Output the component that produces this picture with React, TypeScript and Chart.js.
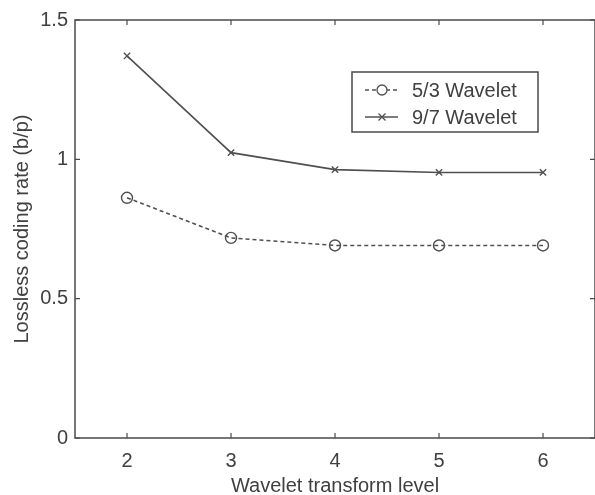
import React, { useEffect, useRef } from "react";
import { Chart, registerables } from "chart.js";

Chart.register(...registerables);

const levels = [2, 3, 4, 5, 6];
const wavelet53 = [0.862, 0.718, 0.691, 0.691, 0.691];
const wavelet97 = [1.371, 1.024, 0.963, 0.953, 0.953];
const seriesNames = ["5/3 Wavelet", "9/7 Wavelet"];
const xTicks = [2, 3, 4, 5, 6];
const yTicks = [0, 0.5, 1, 1.5];
const xTitle = "Wavelet transform level";
const yTitle = "Lossless coding rate (b/p)";

const INK = "#4a4a4a";
const TEXT = "#404040";
const FONT = "'Liberation Sans', Arial, sans-serif";

const framePlugin = {
  id: "frame",
  afterDraw(chart: any) {
    const { ctx, chartArea: a, scales } = chart;
    ctx.save();
    ctx.strokeStyle = INK;
    ctx.lineWidth = 1.5;
    ctx.strokeRect(a.left, a.top, a.right - a.left, a.bottom - a.top);
    ctx.lineWidth = 1.2;
    const t = 5;
    xTicks.forEach((v) => {
      const x = scales.x.getPixelForValue(v);
      ctx.beginPath();
      ctx.moveTo(x, a.bottom);
      ctx.lineTo(x, a.bottom - t);
      ctx.moveTo(x, a.top);
      ctx.lineTo(x, a.top + t);
      ctx.stroke();
    });
    yTicks.forEach((v) => {
      const y = scales.y.getPixelForValue(v);
      ctx.beginPath();
      ctx.moveTo(a.left, y);
      ctx.lineTo(a.left + t, y);
      ctx.moveTo(a.right, y);
      ctx.lineTo(a.right - t, y);
      ctx.stroke();
    });

    // legend
    const bx = a.left + 277;
    const by = a.top + 52;
    const bw = 186;
    const bh = 60;
    ctx.fillStyle = "#ffffff";
    ctx.fillRect(bx, by, bw, bh);
    ctx.lineWidth = 1.5;
    ctx.strokeStyle = INK;
    ctx.strokeRect(bx, by, bw, bh);
    const rows = [by + 18, by + 45];
    ctx.font = `20px ${FONT}`;
    ctx.textBaseline = "middle";
    ctx.textAlign = "left";
    rows.forEach((ry, i) => {
      const ds = chart.data.datasets[i];
      ctx.strokeStyle = ds.borderColor;
      ctx.lineWidth = ds.borderWidth;
      ctx.setLineDash(ds.borderDash || []);
      ctx.beginPath();
      ctx.moveTo(bx + 13, ry);
      ctx.lineTo(bx + 46, ry);
      ctx.stroke();
      ctx.setLineDash([]);
      const mx = bx + 30;
      ctx.lineWidth = 1.3;
      if (i === 0) {
        ctx.fillStyle = "#ffffff";
        ctx.beginPath();
        ctx.arc(mx, ry, 5, 0, Math.PI * 2);
        ctx.fill();
        ctx.stroke();
      } else {
        ctx.beginPath();
        ctx.moveTo(mx - 3.5, ry - 3.5);
        ctx.lineTo(mx + 3.5, ry + 3.5);
        ctx.moveTo(mx - 3.5, ry + 3.5);
        ctx.lineTo(mx + 3.5, ry - 3.5);
        ctx.stroke();
      }
      ctx.fillStyle = TEXT;
      ctx.fillText(seriesNames[i], bx + 60, ry + 1);
    });
    ctx.restore();
  },
};

export default function App() {
  const ref = useRef<HTMLCanvasElement>(null);
  useEffect(() => {
    const chart = new Chart(ref.current!, {
      type: "scatter",
      data: {
        datasets: [
          {
            label: seriesNames[0],
            data: levels.map((x, i) => ({ x, y: wavelet53[i] })),
            showLine: true,
            borderColor: "#505050",
            backgroundColor: "rgba(0,0,0,0)",
            borderWidth: 1.6,
            borderDash: [4, 3],
            pointStyle: "circle",
            pointRadius: 5.5,
            pointBorderWidth: 1.4,
            pointBorderColor: "#505050",
            pointBackgroundColor: "rgba(0,0,0,0)",
          },
          {
            label: seriesNames[1],
            data: levels.map((x, i) => ({ x, y: wavelet97[i] })),
            showLine: true,
            borderColor: "#505050",
            backgroundColor: "rgba(0,0,0,0)",
            borderWidth: 1.6,
            pointStyle: "crossRot",
            pointRadius: 4.5,
            pointBorderWidth: 1.4,
            pointBorderColor: "#505050",
          },
        ],
      },
      options: {
        animation: false,
        responsive: false,
        layout: { autoPadding: false, padding: { top: 20, right: -2, left: 0, bottom: 0 } },
        plugins: { legend: { display: false }, tooltip: { enabled: false } },
        scales: {
          x: {
            type: "linear",
            min: 1.5,
            max: 6.5,
            afterBuildTicks: (s: any) => {
              s.ticks = xTicks.map((v) => ({ value: v }));
            },
            afterFit: (s: any) => {
              s.height = 57;
              s.paddingLeft = 0;
              s.paddingRight = 0;
            },
            grid: { display: false, drawTicks: false },
            border: { display: false },
            ticks: {
              color: TEXT,
              font: { family: FONT, size: 20 },
              padding: 11,
              maxRotation: 0,
            },
            title: {
              display: true,
              text: xTitle,
              color: TEXT,
              font: { family: FONT, size: 20 },
              padding: { top: 0, bottom: -3 },
            },
          },
          y: {
            type: "linear",
            min: 0,
            max: 1.5,
            afterBuildTicks: (s: any) => {
              s.ticks = yTicks.map((v) => ({ value: v }));
            },
            afterFit: (s: any) => {
              s.width = 75;
              s.paddingTop = 0;
              s.paddingBottom = 0;
            },
            grid: { display: false, drawTicks: false },
            border: { display: false },
            ticks: {
              color: TEXT,
              font: { family: FONT, size: 20 },
              padding: 7,
              callback: (v: any) => String(v),
            },
            title: {
              display: true,
              text: yTitle,
              color: TEXT,
              font: { family: FONT, size: 20 },
              padding: { top: 10, bottom: 0 },
            },
          },
        },
      },
      plugins: [framePlugin],
    } as any);
    return () => chart.destroy();
  }, []);
  return (
    <div style={{ position: "fixed", left: 0, top: 0, width: 595, height: 495, background: "#fff", overflow: "hidden" }}>
      <canvas ref={ref} width={595} height={495} style={{ width: 595, height: 495 }} />
    </div>
  );
}
